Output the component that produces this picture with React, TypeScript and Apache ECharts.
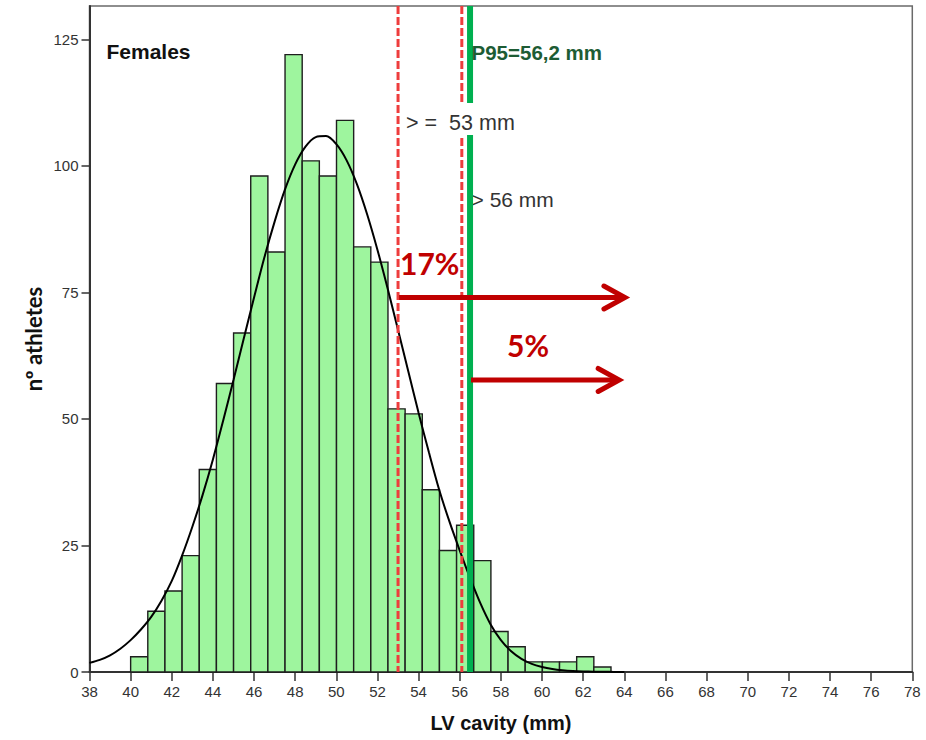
import React, { useEffect, useRef } from "react";
import * as echarts from "echarts";

// Histogram bins (LV cavity, mm) and counts of female athletes
const BIN_START = 40;
const BIN_WIDTH = 0.834;
const binCounts = [3, 12, 16, 23, 40, 57, 67, 98, 83, 122, 101, 98, 109, 84, 81, 52, 51, 36, 24, 29, 22, 8, 5, 2, 2, 2, 3, 1];

// Fitted normal curve (every 0.5 mm)
const curveX = [
  38, 38.5, 39, 39.5, 40, 40.5, 41, 41.5, 42, 42.5, 43, 43.5, 44, 44.5, 45, 45.5, 46, 46.5, 47, 47.5,
  48, 48.5, 49, 49.5, 50, 50.5, 51, 51.5, 52, 52.5, 53, 53.5, 54, 54.5, 55, 55.5, 56, 56.5, 57, 57.5,
  58, 58.5, 59, 59.5, 60, 60.5, 61, 61.5, 62, 62.5, 63, 63.5, 64,
];
const curveY = [
  1.8, 2.4, 3.3, 4.6, 6.3, 8.4, 10.9, 14.1, 18, 23, 28.7, 35, 42, 49.7, 57.7, 65.9, 74, 81.9, 89, 95.3,
  100.3, 103.8, 105.7, 105.9, 104.3, 101.1, 96.4, 90.4, 83.4, 75.7, 67.6, 59.4, 51.2, 43.4, 36, 29.7, 24, 18.6, 13.6, 9.4,
  6.3, 4.1, 2.6, 1.6, 1, 0.6, 0.35, 0.2, 0.12, 0.07, 0.04, 0.02, 0,
];

// Axis ranges
const X_MIN = 38;
const X_MAX = 78;
const X_STEP = 2;
const Y_MAX = 131.6;
const yTickValues = [0, 25, 50, 75, 100, 125];

// Annotations
const thresholdLines = [53, 56.1];
const p95Line = 56.5;
const arrowLabels = ["17%", "5%"];
const arrowFrom = [53, 56.5];
const arrowTo = [64.03, 63.75];
const arrowLevel = [74, 57.7];

export default function App() {
  const ref = useRef<HTMLDivElement>(null);

  useEffect(() => {
    if (!ref.current) return;
    const chart = echarts.init(ref.current, undefined, { renderer: "svg" });

    const histData = binCounts.map((c, i) => [BIN_START + i * BIN_WIDTH, BIN_START + (i + 1) * BIN_WIDTH, c]);
    const curveData = curveX.map((x, i) => [x, curveY[i]]);

    chart.setOption({
      animation: false,
      grid: {
        left: 89.5,
        right: 13.7,
        top: 6,
        bottom: 68,
        show: true,
        borderColor: "#6a6a6a",
        borderWidth: 1.5,
        backgroundColor: "transparent",
        outerBoundsMode: "none",
      },
      xAxis: {
        type: "value",
        min: X_MIN,
        max: X_MAX,
        interval: X_STEP,
        axisLine: { show: true, lineStyle: { color: "#333", width: 2 } },
        axisTick: { show: true, length: 9, lineStyle: { color: "#333", width: 1.5 } },
        axisLabel: { color: "#333", fontSize: 15, fontFamily: "Liberation Sans", margin: 12 },
        splitLine: { show: false },
      },
      yAxis: {
        type: "value",
        min: 0,
        max: Y_MAX,
        axisLine: { show: true, lineStyle: { color: "#333", width: 2 } },
        axisTick: { show: true, length: 8, customValues: yTickValues, lineStyle: { color: "#333", width: 1.5 } },
        axisLabel: { color: "#333", fontSize: 15, fontFamily: "Liberation Sans", margin: 11, customValues: yTickValues },
        splitLine: { show: false },
      },
      series: [
        {
          type: "custom",
          data: histData,
          encode: { x: [0, 1], y: 2 },
          z: 2,
          renderItem: (params: any, api: any) => {
            const p0 = api.coord([api.value(0), api.value(2)]);
            const p1 = api.coord([api.value(1), 0]);
            return {
              type: "rect",
              shape: { x: p0[0], y: p0[1], width: p1[0] - p0[0], height: p1[1] - p0[1] },
              style: { fill: "#9ef59e", stroke: "#1e1e1e", lineWidth: 1.4 },
            };
          },
        },
        {
          type: "line",
          data: curveData,
          smooth: 0.3,
          symbol: "none",
          z: 3,
          lineStyle: { color: "#000", width: 2 },
        },
      ],
    });

    const px = (x: number, y: number) => chart.convertToPixel({ gridIndex: 0 }, [x, y]) as number[];
    const top = px(X_MIN, Y_MAX)[1];
    const bottom = px(X_MIN, 0)[1];

    const graphics: any[] = [];
    thresholdLines.forEach((t) => {
      const x = px(t, 0)[0];
      graphics.push({
        type: "line",
        z: 50,
        shape: { x1: x, y1: top, x2: x, y2: bottom },
        style: { stroke: "#ee3d3d", lineWidth: 3, lineDash: [8, 3] },
      });
    });
    const gx = px(p95Line, 0)[0];
    graphics.push({
      type: "line",
      z: 51,
      shape: { x1: gx, y1: top, x2: gx, y2: bottom },
      style: { stroke: "#00b050", lineWidth: 6 },
    });
    const t53 = px(thresholdLines[0], 0)[0];
    graphics.push({
      type: "rect",
      z: 60,
      shape: { x: t53 + 4, y: top + 97, width: 124, height: 32 },
      style: { fill: "#ffffff" },
    });
    graphics.push({
      type: "text",
      z: 61,
      x: t53 + 8,
      y: 123,
      style: { text: "> =  53 mm", font: '21.5px "Liberation Sans"', fill: "#333", verticalAlign: "middle" },
    });
    graphics.push({
      type: "text",
      z: 49,
      x: gx + 1.5,
      y: 199,
      style: { text: "> 56 mm", font: '21px "Liberation Sans"', fill: "#333", verticalAlign: "middle" },
    });
    graphics.push({
      type: "text",
      z: 61,
      x: gx + 1.5,
      y: 52,
      style: { text: "P95=56,2 mm", font: 'bold 20.5px "Liberation Sans"', fill: "#1d5c34", verticalAlign: "middle" },
    });

    arrowLabels.forEach((label, i) => {
      const a = px(arrowFrom[i], arrowLevel[i]);
      const b = px(arrowTo[i], arrowLevel[i]);
      graphics.push({
        type: "line",
        z: 70,
        shape: { x1: a[0] + 1, y1: a[1], x2: b[0] - 3, y2: b[1] },
        style: { stroke: "#c00000", lineWidth: 5 },
      });
      graphics.push({
        type: "polyline",
        z: 70,
        shape: { points: [[b[0] - 21, b[1] - 11.5], [b[0], b[1]], [b[0] - 21, b[1] + 11.5]] },
        style: { stroke: "#c00000", lineWidth: 5, lineCap: "round", lineJoin: "miter", fill: null },
      });
      graphics.push({
        type: "text",
        z: 70,
        x: i === 0 ? a[0] + 2 : a[0] + 37,
        y: a[1] - 34.5,
        style: { text: label, font: "bold 30px Lato", fill: "#c00000", verticalAlign: "middle" },
      });
    });

    graphics.push({
      type: "text",
      z: 70,
      x: 106.5,
      y: 51,
      style: { text: "Females", font: 'bold 21px "Liberation Sans"', fill: "#111", verticalAlign: "middle" },
    });
    graphics.push({
      type: "text",
      z: 70,
      x: 33,
      y: 339,
      rotation: Math.PI / 2,
      style: { text: "nº athletes", font: "bold 22px Lato", fill: "#111", align: "center", verticalAlign: "middle" },
    });
    graphics.push({
      type: "text",
      z: 70,
      x: 501,
      y: 723,
      style: { text: "LV cavity (mm)", font: 'bold 20px "Liberation Sans"', fill: "#111", align: "center", verticalAlign: "middle" },
    });

    chart.setOption({ graphic: graphics });

    return () => chart.dispose();
  }, []);

  return (
    <div
      ref={ref}
      style={{ position: "fixed", left: 0, top: 0, width: 926, height: 740, background: "#fff" }}
    />
  );
}
